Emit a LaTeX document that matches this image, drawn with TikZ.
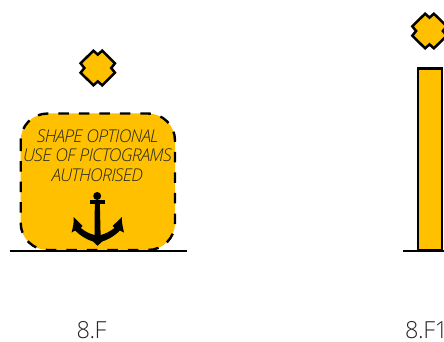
\documentclass[tikz,border=0pt]{standalone}
\usepackage{fontspec}
\setmainfont{Open Sans}[UprightFont=* Light,ItalicFont=* Light Italic]
\definecolor{signy}{HTML}{FFC000}
\tikzset{x=1pt,y=-1pt,
  outl/.style={draw=black,line width=2.5pt,fill=signy,line join=miter},
  ground/.style={draw=black,line width=2pt},
  lab/.style={font=\fontsize{23.5}{26}\selectfont\addfontfeature{LetterSpace=-2},text=black!85,anchor=base,inner sep=0pt},
  note/.style={font=\fontsize{17.6}{19.4}\selectfont\itshape,text=black!85,align=center,inner sep=0pt},
  topmark/.pic={\draw[outl] (-4.4,-17.3)--(0,-13.4)--(4.4,-17.3)--(17.2,-4.7)--(13.4,0)--(17.2,4.7)--(4.4,17.3)--(0,13.4)--(-4.4,17.3)--(-17.2,4.7)--(-13.4,0)--(-17.2,-4.7)--cycle;}}
\begin{document}
\begin{tikzpicture}
\useasboundingbox (0,0) rectangle (444,342);
% left
\pic at (97.8,68) {topmark};
\fill[signy,rounded corners=27pt] (20.7,113.5) rectangle (175,250);
\draw[black,line width=2.4pt,dash pattern=on 10.5pt off 10pt,rounded corners=27pt] (20.7,113.5) rectangle (175,250);
\coordinate (gl1) at (9.5,250.5);
\coordinate (gl2) at (186.5,250.5);
\draw[ground] (gl1) -- (gl2);
\node[note] (txt) at (97.5,155.5) {\addfontfeature{LetterSpace=-4}SHAPE OPTIONAL\\\addfontfeature{LetterSpace=-4}USE OF PICTOGRAMS\\\addfontfeature{LetterSpace=-4}AUTHORISED};
% anchor
\fill[black] (97.2,196) circle (4);
\fill[black] (90,199.8) rectangle (104.6,204.4);
\fill[black] (94.8,202) -- (99.8,202) -- (100.6,235)
  .. controls (105,234) and (110,231.5) .. (114.5,228)
  -- (112.6,226) -- (122,217)
  .. controls (121.4,222) and (122.8,227) .. (124,232.5)
  -- (120,230.5)
  .. controls (114,236.5) and (107,240) .. (102,241.6)
  -- (97.6,245.8) -- (93.2,241.6)
  .. controls (88,240) and (81,236.5) .. (75.2,230.5)
  -- (71.6,232.5)
  .. controls (73,227) and (74.2,222) .. (73.6,217)
  -- (82.6,226) -- (80.8,228)
  .. controls (85,231.5) and (90,234) .. (94.6,235) -- cycle;
% right
\pic at (429.5,31) {topmark};
\draw[outl] (418,68.5) rectangle (442,250);
\coordinate (gr1) at (403,250.5);
\coordinate (gr2) at (446,250.5);
\draw[ground] (gr1) -- (gr2);
% labels
\node[lab] (l1) at (91.5,338) {8.F};
\node[lab,anchor=base west] (l2) at (405,338) {8.F1};
\end{tikzpicture}
\end{document}
